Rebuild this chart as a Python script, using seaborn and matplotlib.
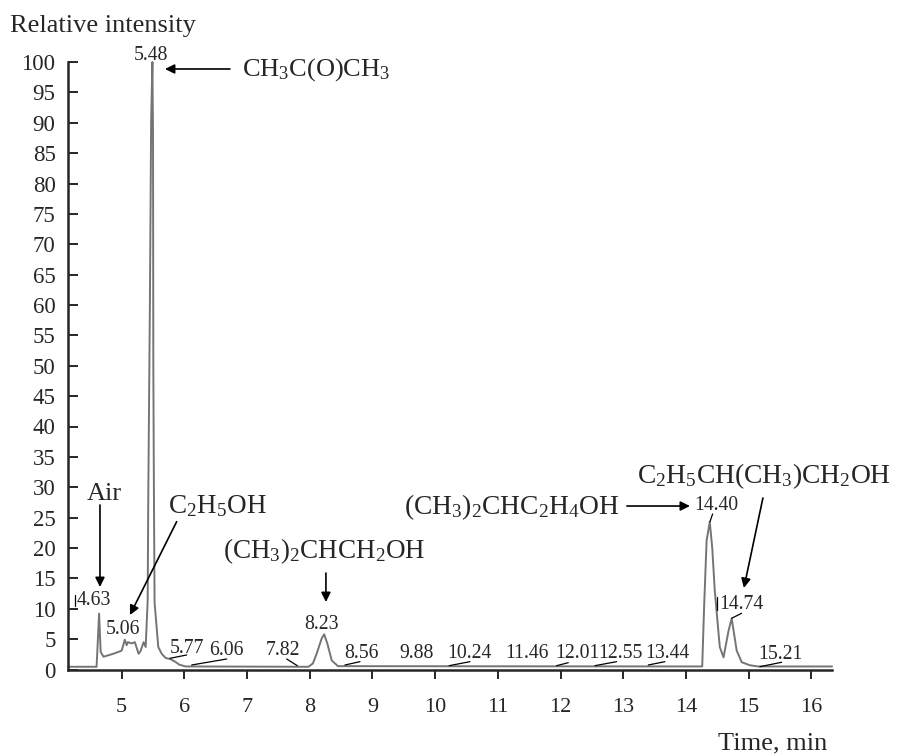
import matplotlib
matplotlib.use("Agg")
import matplotlib.pyplot as plt
import seaborn as sns
import pandas as pd

# ---- chromatogram trace (time, relative intensity) ----
trace_time = [4.144, 4.60, 4.64, 4.665, 4.71, 4.87, 5.00, 5.05, 5.08, 5.10, 5.16,
              5.21, 5.27, 5.30, 5.35, 5.383, 5.415, 5.424, 5.45, 5.47, 5.49, 5.50,
              5.505, 5.515, 5.525, 5.584, 5.638, 5.70, 5.78, 5.85, 5.92, 6.02,
              7.98, 8.05, 8.11, 8.19, 8.23, 8.28, 8.35, 8.45,
              14.26, 14.29, 14.33, 14.38, 14.42, 14.46, 14.54, 14.60, 14.68, 14.73,
              14.81, 14.89, 15.02, 15.15, 16.33]
trace_int = [0.45, 0.45, 9.2, 2.9, 2.1, 2.6, 3.1, 4.9, 4.0, 4.5, 4.3,
             4.5, 2.6, 3.0, 4.5, 3.7, 11.4, 27.8, 60.0, 90.0, 100.0, 88.0,
             50.0, 28.0, 11.0, 3.7, 2.6, 1.9, 1.7, 1.3, 0.8, 0.5,
             0.45, 1.0, 2.6, 5.1, 5.8, 4.3, 1.5, 0.55,
             0.5, 10.3, 21.2, 24.3, 20.0, 13.0, 3.7, 2.0, 6.4, 8.4,
             3.1, 1.2, 0.7, 0.5, 0.5]

# ---- peak retention-time labels ----
peak_labels = ["5.48", "4.63", "5.06", "5.77", "6.06", "7.82", "8.23", "8.56",
               "9.88", "10.24", "11.46", "12.01", "12.55", "13.44", "14.40",
               "14.74", "15.21"]
peak_label_x = [5.459, 4.555, 5.018, 6.037, 6.675, 7.578, 8.184, 8.828,
                9.705, 10.542, 11.46, 12.27, 12.96, 13.70, 14.489, 14.888, 15.512]
peak_label_y = [100.33, 10.62, 5.84, 2.67, 2.39, 2.39, 6.62, 1.84,
                1.84, 1.84, 1.84, 1.84, 1.84, 1.84, 26.26, 9.91, 1.68]

# leader segments: (t0, i0, t1, i1)
leaders = [(5.770, 1.84, 6.037, 2.39), (6.116, 0.74, 6.675, 1.73),
           (7.632, 1.73, 7.801, 0.63), (8.561, 0.74, 8.801, 1.29),
           (10.225, 0.63, 10.555, 1.29), (11.938, 0.63, 12.123, 1.12),
           (12.549, 0.63, 12.895, 1.29), (13.399, 0.74, 13.665, 1.29),
           (14.383, 24.33, 14.426, 25.60), (14.729, 8.43, 14.888, 9.25),
           (15.18, 0.46, 15.526, 1.19), (4.255, 10.4, 4.255, 12.2),
           (14.49, 9.8, 14.49, 12.0)]

# ---- compound labels: text, text position (x, baseline y, ha), arrow tail, arrow head ----
compounds = [r"CH$_3$C(O)CH$_3$", "Air", r"C$_2$H$_5$OH", r"(CH$_3$)$_2$CHCH$_2$OH",
             r"(CH$_3$)$_2$CHC$_2$H$_4$OH", r"C$_2$H$_5$CH(CH$_3$)CH$_2$OH"]
compound_size = [19, 19, 19.5, 19.5, 19.8, 19.8]
compound_pos = [(6.919, 97.70, "left"), (4.442, 27.90, "left"), (5.738, 25.71, "left"),
                (6.616, 18.35, "left"), (12.947, 25.60, "right"), (13.214, 30.65, "left")]
arrow_tail = [(6.727, 98.85), (4.654, 27.08), (5.877, 24.33), (8.258, 15.88),
              (13.059, 26.91), (15.228, 28.23)]
arrow_head = [(5.691, 98.85), (4.654, 13.58), (5.132, 8.97), (8.258, 11.11),
              (14.064, 26.91), (14.925, 13.42)]

x_ticks = list(range(5, 17))
y_ticks = list(range(0, 101, 5))

sns.set_style("ticks")
plt.rcParams["font.family"] = ["Liberation Serif", "DejaVu Serif"]
plt.rcParams["mathtext.fontset"] = "custom"
plt.rcParams["mathtext.rm"] = "Liberation Serif"
plt.rcParams["mathtext.it"] = "Liberation Serif:italic"

fig = plt.figure(figsize=(9.01, 7.55), dpi=100)
ax = fig.add_axes([68 / 901, 1 - 669.5 / 755, (832 - 68) / 901, (669.5 - 62) / 755])

df = pd.DataFrame({"t": trace_time, "i": trace_int})
sns.lineplot(data=df, x="t", y="i", sort=False, color="#747474", lw=1.4, ax=ax,
             clip_on=False)

ax.set_xlim(4.144, 16.33)
ax.set_ylim(0, 100)
ax.set_xticks(x_ticks)
ax.set_yticks(y_ticks)
ax.set_xlabel("")
ax.set_ylabel("")
sns.despine(ax=ax)
for s in ("left", "bottom"):
    ax.spines[s].set_linewidth(1.8)
ax.tick_params(axis="y", direction="in", length=7.5, width=1.4, pad=9, labelsize=16.5)
ax.tick_params(axis="x", direction="out", length=6.5, width=1.4, pad=14, labelsize=16)

for lab, x, y in zip(peak_labels, peak_label_x, peak_label_y):
    ax.text(x, y, lab, ha="center", va="baseline", fontsize=14.2, clip_on=False)

for t0, i0, t1, i1 in leaders:
    ax.plot([t0, t1], [i0, i1], color="black", lw=0.9, clip_on=False)

for txt, fs, (x, y, ha), tail, head in zip(compounds, compound_size, compound_pos,
                                           arrow_tail, arrow_head):
    ax.text(x, y, txt, ha=ha, va="baseline", fontsize=fs, clip_on=False)
    ax.annotate("", xy=head, xytext=tail,
                arrowprops=dict(arrowstyle="-|>", color="black", lw=1.2,
                                mutation_scale=14, shrinkA=0, shrinkB=0))

fig.text(10 / 901, 1 - 31.7 / 755, "Relative intensity", ha="left", va="baseline",
         fontsize=19)
fig.text(827 / 901, 1 - 749.3 / 755, "Time, min", ha="right", va="baseline",
         fontsize=19)

fig.savefig("out.png", dpi=100)
